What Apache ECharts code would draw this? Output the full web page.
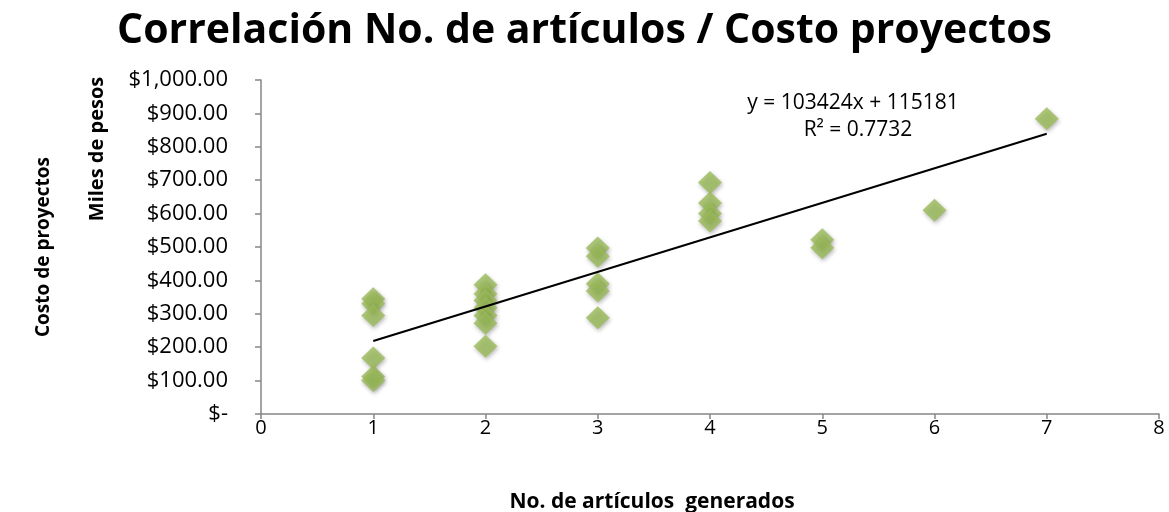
<!DOCTYPE html>
<html>
<head>
<meta charset="utf-8">
<script src="https://cdn.jsdelivr.net/npm/echarts@6/dist/echarts.min.js"></script>
<style>
  html, body { margin: 0; padding: 0; background: #fff; }
  #charts { width: 1169px; height: 512px; }
</style>
</head>
<body>
<div id="charts"></div>
<script>
// No. de articulos (x) y costo del proyecto en miles de pesos (y)
var articulos = [1, 1, 1, 1, 1, 1, 2, 2, 2, 2, 2, 2, 2, 3, 3, 3, 3, 3, 4, 4, 4, 4, 5, 5, 6, 7];
var costos = [345, 330, 295, 168, 112, 100, 387, 360, 340, 318, 295, 272, 203, 497, 472, 390, 368, 288, 693, 632, 600, 578, 522, 498, 610, 884];
// linea de tendencia (Excel): y = 103424x + 115181
var pendiente = 103.424;
var intercepto = 115.181;
var tendenciaX = [1, 7];
var etiquetaEcuacion = 'y = 103424x + 115181';
var etiquetaR2 = 'R² = 0.7732';

var puntos = articulos.map(function (x, i) { return [x, costos[i]]; });
var tendencia = tendenciaX.map(function (x) { return [x, pendiente * x + intercepto]; });

function formatoPesos(v) {
    if (v === 0) return '$-';
    return '$' + v.toLocaleString('en-US', { minimumFractionDigits: 2, maximumFractionDigits: 2 });
}

var fuente = '"Open Sans", sans-serif';
var chart = echarts.init(document.getElementById('charts'));
chart.setOption({
    backgroundColor: '#fff',
    animation: false,
    title: {
        text: 'Correlación No. de artículos / Costo proyectos',
        left: 'center',
        top: 6,
        textStyle: { fontFamily: fuente, fontWeight: 'bold', fontSize: 41, color: '#000' }
    },
    grid: { left: 261, right: 10, top: 80, bottom: 98 },
    xAxis: {
        type: 'value',
        min: 0,
        max: 8,
        interval: 1,
        splitLine: { show: false },
        axisLine: { show: true, lineStyle: { color: '#868686', width: 1.5 } },
        axisTick: { show: true, length: 5, lineStyle: { color: '#868686', width: 1.5 } },
        axisLabel: { fontFamily: fuente, fontSize: 20, color: '#000', margin: 4 }
    },
    yAxis: {
        type: 'value',
        min: 0,
        max: 1000,
        interval: 100,
        splitLine: { show: false },
        axisLine: { show: true, lineStyle: { color: '#868686', width: 1.5 } },
        axisTick: { show: true, length: 6, lineStyle: { color: '#868686', width: 1.5 } },
        axisLabel: { fontFamily: fuente, fontSize: 22, color: '#000', margin: 33, formatter: formatoPesos }
    },
    graphic: [
        {
            type: 'text', x: 44, y: 247, rotation: Math.PI / 2,
            style: { text: 'Costo de proyectos', fontFamily: fuente, fontWeight: 'bold', fontSize: 19, fill: '#000', align: 'center', verticalAlign: 'middle' }
        },
        {
            type: 'text', x: 97, y: 149, rotation: Math.PI / 2,
            style: { text: 'Miles de pesos', fontFamily: fuente, fontWeight: 'bold', fontSize: 20, fill: '#000', align: 'center', verticalAlign: 'middle' }
        },
        {
            type: 'text', x: 652, y: 502,
            style: { text: 'No. de artículos  generados', fontFamily: fuente, fontWeight: 'bold', fontSize: 21, fill: '#000', align: 'center', verticalAlign: 'middle' }
        },
        {
            type: 'text', x: 853, y: 103,
            style: { text: etiquetaEcuacion, fontFamily: fuente, fontSize: 21, fill: '#000', align: 'center', verticalAlign: 'middle' }
        },
        {
            type: 'text', x: 858, y: 130,
            style: { text: etiquetaR2, fontFamily: fuente, fontSize: 21, fill: '#000', align: 'center', verticalAlign: 'middle' }
        }
    ],
    series: [
        {
            name: 'Tendencia',
            type: 'line',
            data: tendencia,
            symbol: 'none',
            lineStyle: { color: '#000', width: 2 },
            z: 3
        },
        {
            name: 'Costo',
            type: 'scatter',
            data: puntos,
            symbol: 'diamond',
            symbolSize: [24, 23],
            itemStyle: {
                color: '#9BBB59',
                shadowColor: 'rgba(0,0,0,0.35)',
                shadowBlur: 4,
                shadowOffsetX: 1,
                shadowOffsetY: 2
            },
            z: 2
        }
    ]
});
</script>
</body>
</html>
